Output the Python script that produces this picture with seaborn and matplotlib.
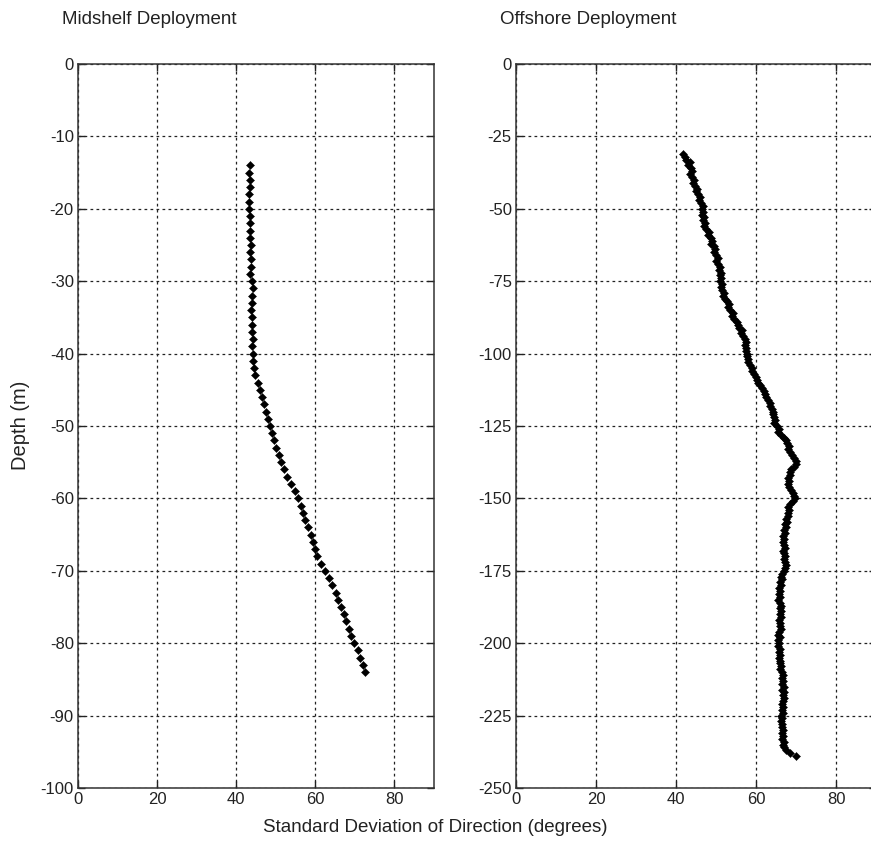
import numpy as np
import pandas as pd
import matplotlib
matplotlib.use("Agg")
import matplotlib.pyplot as plt
import seaborn as sns

# Midshelf deployment: standard deviation of direction (deg), 1 m bins from -14 m to -84 m
mid_depth_top, mid_depth_bottom = -14, -84
mid_std = [
    43.5, 43.2, 43.4, 43.6, 43.3, 43.2, 43.3, 43.5, 43.4, 43.6,
    43.5, 43.7, 43.6, 43.8, 43.7, 43.6, 43.9, 44.2, 44.0, 43.9,
    43.8, 44.0, 44.1, 44.0, 44.2, 44.1, 44.3, 44.2, 44.4, 44.8,
    45.4, 46.0, 46.5, 47.0, 47.5, 48.0, 48.6, 49.1, 49.6, 50.1,
    50.7, 51.4, 52.1, 52.9, 53.8, 54.8, 55.6, 56.3, 56.9, 57.5,
    58.2, 58.8, 59.4, 59.9, 60.5, 61.4, 62.5, 63.5, 64.3, 65.1,
    65.8, 66.5, 67.2, 67.8, 68.4, 69.1, 69.9, 70.7, 71.4, 72.1, 72.6,
]

# Offshore deployment: 1 m bins from -31 m to -239 m
off_depth_top, off_depth_bottom = -31, -239
off_std = [
    41.8, 42.3, 42.6, 43.4, 43.0, 43.8, 44.1, 43.6, 44.0, 44.4,
    44.2, 44.8, 45.3, 44.9, 45.5, 46.1, 45.7, 46.3, 46.7, 46.4,
    46.8, 46.5, 47.0, 46.8, 47.3, 47.0, 47.5, 48.2, 48.0, 48.7,
    49.1, 48.8, 49.4, 49.8, 49.5, 50.0, 50.4, 50.1, 50.6, 50.9,
    50.7, 51.2, 51.0, 51.3, 51.1, 51.5, 51.3, 51.6, 51.9, 51.7,
    52.3, 52.8, 53.2, 53.0, 53.6, 54.2, 54.0, 54.6, 55.2, 55.5,
    55.8, 56.4, 56.2, 56.8, 57.2, 57.4, 57.2, 57.6, 57.5, 57.8,
    57.7, 58.1, 58.0, 58.6, 59.1, 59.0, 59.6, 59.9, 60.2, 60.5,
    60.9, 61.5, 62.0, 62.2, 62.6, 63.0, 63.4, 63.5, 63.9, 64.2,
    64.3, 64.6, 64.8, 64.6, 65.3, 65.8, 65.6, 66.3, 66.9, 67.4,
    67.8, 68.2, 68.0, 68.5, 68.9, 69.4, 69.9, 70.1, 69.5, 68.8,
    68.4, 68.6, 68.1, 68.3, 67.9, 68.3, 68.7, 69.2, 69.6, 69.7,
    69.2, 68.6, 68.1, 68.3, 67.9, 68.0, 67.6, 67.8, 67.3, 67.5,
    67.0, 67.3, 66.8, 67.1, 66.7, 66.9, 67.2, 66.8, 67.0, 67.3,
    66.9, 67.2, 67.6, 67.3, 67.1, 66.6, 66.3, 66.5, 66.0, 66.2,
    65.8, 66.1, 65.7, 66.0, 65.6, 65.9, 66.3, 66.0, 66.2, 65.9,
    66.2, 65.8, 66.1, 65.9, 66.2, 65.8, 65.6, 65.9, 65.6, 65.8,
    65.5, 65.9, 65.7, 66.0, 65.8, 66.1, 65.9, 66.3, 66.1, 66.5,
    66.7, 66.4, 66.8, 66.5, 66.9, 66.6, 66.9, 66.7, 67.0, 66.8,
    66.5, 66.8, 66.4, 66.7, 66.3, 66.6, 66.2, 66.6, 66.4, 66.7,
    66.5, 66.8, 66.6, 66.9, 66.7, 67.0, 67.6, 68.6, 70.1,
]

x_ticks = [0, 20, 40, 60, 80]
mid_y_ticks = list(range(0, -101, -10))
off_y_ticks = list(range(0, -251, -25))

mid_df = pd.DataFrame({
    "std": mid_std,
    "depth": np.arange(mid_depth_top, mid_depth_bottom - 1, -1),
})
off_df = pd.DataFrame({
    "std": off_std,
    "depth": np.arange(off_depth_top, off_depth_bottom - 1, -1),
})

sns.set_style("ticks")
plt.rcParams["font.family"] = ["Liberation Sans", "DejaVu Sans"]
plt.rcParams["axes.unicode_minus"] = False

fig = plt.figure(figsize=(8.71, 8.56), dpi=100)
W, H = 871, 856
ax1 = fig.add_axes([78 / W, 1 - 788 / H, 356 / W, 724 / H])
ax2 = fig.add_axes([516 / W, 1 - 788 / H, 360 / W, 724 / H])

panels = [
    (ax1, mid_df, mid_y_ticks, (-100, 0), "Midshelf Deployment", 62),
    (ax2, off_df, off_y_ticks, (-250, 0), "Offshore Deployment", 500),
]

for ax, df, yt, ylim, title, tx in panels:
    sns.scatterplot(data=df, x="std", y="depth", ax=ax, marker="D", s=17,
                    color="black", edgecolor="black", linewidth=0.3,
                    legend=False, zorder=3)
    ax.set_xlim(0, 90)
    ax.set_ylim(*ylim)
    ax.set_xticks(x_ticks)
    ax.set_yticks(yt)
    ax.set_xlabel("")
    ax.set_ylabel("")
    ax.set_axisbelow(True)
    ax.grid(True, color="#222222", linestyle=(0, (2.2, 2.6)), linewidth=0.9)
    ax.tick_params(direction="in", length=5, width=1, labelsize=12,
                   colors="#222222", top=True, right=True, pad=3)
    for sp in ax.spines.values():
        sp.set_color("#333333")
        sp.set_linewidth(1.1)
        sp.set_visible(True)
        sp.set_zorder(4)
    fig.text(tx / W, 1 - 20 / H, title, fontsize=13.5, color="#222222",
             ha="left", va="center")

fig.text(435 / W, 1 - 828 / H, "Standard Deviation of Direction (degrees)",
         fontsize=13.5, color="#222222", ha="center", va="center")
fig.text(20 / W, 1 - 425 / H, "Depth (m)", fontsize=14.5, color="#222222",
         ha="center", va="center", rotation=90)

fig.savefig("out.png", dpi=100, facecolor="white")
